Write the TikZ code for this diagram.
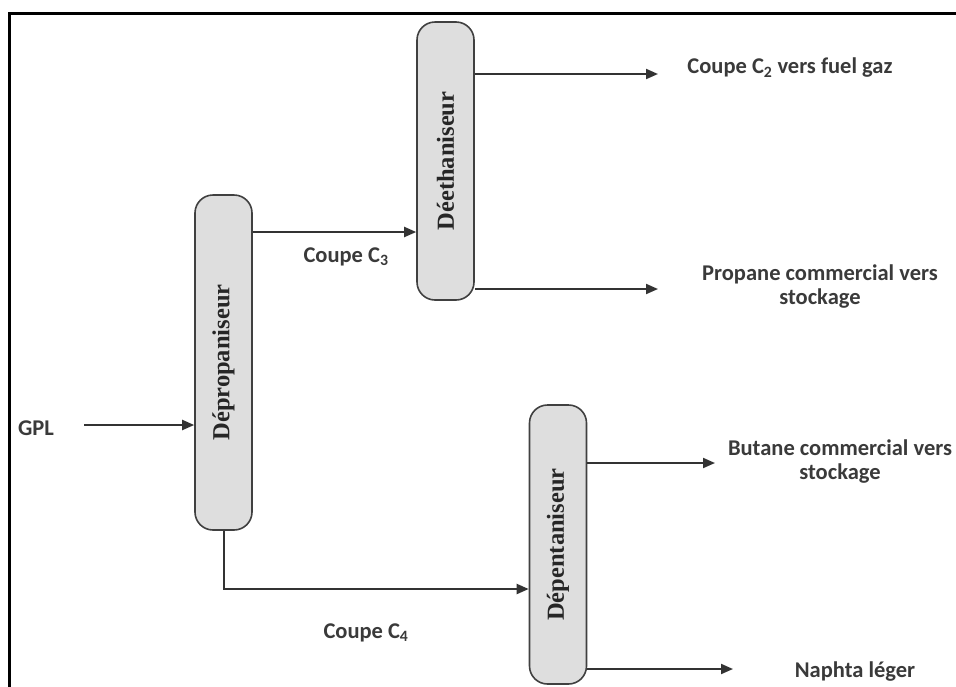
\documentclass[tikz,border=0pt]{standalone}
\usepackage{fontspec}
\setmainfont{Carlito}
\newfontfamily\colfont{Liberation Serif}
\usetikzlibrary{arrows.meta}
\definecolor{boxfill}{HTML}{DEDEDE}
\definecolor{boxline}{HTML}{404040}
\definecolor{flowline}{HTML}{333333}
\definecolor{labeltext}{HTML}{3A3A3A}
\tikzset{
  column/.style={draw=boxline, fill=boxfill, line width=1.6pt, rounded corners=18pt,
    minimum width=57pt, inner sep=0pt, font=\colfont\bfseries\fontsize{24.5}{26}\selectfont, text=black!85},
  flow/.style={draw=flowline, line width=2pt, -{Triangle[length=12pt,width=10pt]}},
  link/.style={draw=flowline, line width=2pt},
  lbl/.style={font=\bfseries\fontsize{22.5}{24}\selectfont, text=labeltext, align=center, inner sep=0pt},
  frameline/.style={draw=black, line width=3pt}
}
\begin{document}
\begin{tikzpicture}[x=1pt, y=-1pt]
\useasboundingbox (0,0) rectangle (956,686);
\fill[white] (0,0) rectangle (956,686);
% outer frame
\draw[frameline] (9,690) -- (9,13) -- (960,13);

% distillation columns
\node[column, minimum height=335pt] (dp) at (223.5,362.5) {\rotatebox{90}{Dépropaniseur}};
\node[column, minimum height=278pt] (de) at (445.5,161) {\rotatebox{90}{Déethaniseur}};
\node[column, minimum height=279pt] (dn) at (558,544.5) {\rotatebox{90}{Dépentaniseur}};

% stream ends
\coordinate (gplIn) at (84,425);
\coordinate (c3) at (252,232);
\coordinate (c2End) at (658,74);
\coordinate (propEnd) at (658,289);
\coordinate (c4Bend) at (223.5,589);
\coordinate (butEnd) at (715,463);
\coordinate (naphEnd) at (733,669);

% streams
\draw[flow] (gplIn) -- (gplIn -| dp.west);
\draw[flow] (dp.east |- c3) -- (de.west |- c3);
\draw[flow] (de.east |- c2End) -- (c2End);
\draw[flow] (de.east |- propEnd) -- (propEnd);
\draw[flow] (dp.south) -- (c4Bend) -- (dn.west |- c4Bend);
\draw[flow] (dn.east |- butEnd) -- (butEnd);
\draw[flow] (dn.east |- naphEnd) -- (naphEnd);

% stream labels
\node[lbl] (lgpl) at (36,428) {GPL};
\node[lbl] (lc3) at (346,257) {Coupe C\textsubscript{3}};
\node[lbl] (lc2) at (790,68) {Coupe C\textsubscript{2} vers fuel gaz};
\node[lbl] (lprop) at (820,287) {Propane commercial vers\\stockage};
\node[lbl] (lc4) at (366,633) {Coupe C\textsubscript{4}};
\node[lbl] (lbut) at (840,462) {Butane commercial vers\\stockage};
\node[lbl] (lnaph) at (855,672) {Naphta léger};
\end{tikzpicture}
\end{document}
